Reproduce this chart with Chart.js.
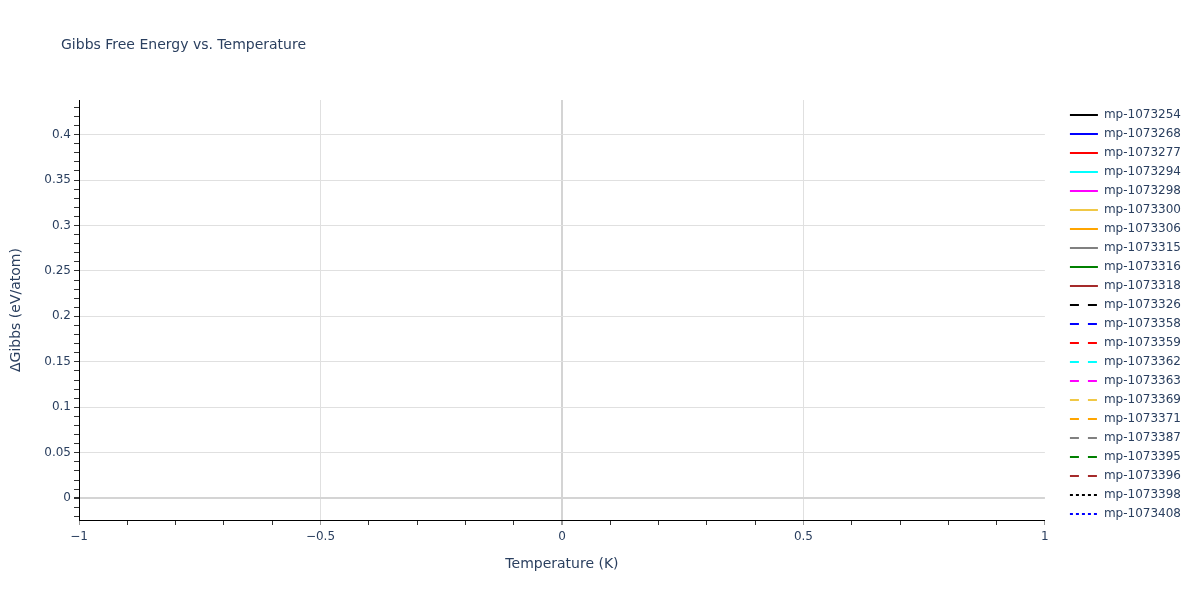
<!DOCTYPE html>
<html>
<head>
<meta charset="utf-8">
<title>Gibbs Free Energy vs. Temperature</title>
<script src="https://cdn.jsdelivr.net/npm/chart.js@4.4.1/dist/chart.umd.min.js"></script>
<style>
  html, body { margin: 0; padding: 0; background: #fff; }
  #wrap { width: 1200px; height: 600px; position: relative; }
</style>
</head>
<body>
<div id="wrap"><canvas id="gibbsChart"></canvas></div>
<script>
// datos del grafico (vacio: ningun material tiene puntos en el rango)
const chartTitle = "Gibbs Free Energy vs. Temperature";
const xTitle = "Temperature (K)";
const yTitle = "\u0394Gibbs (eV/atom)";

const xRange = [-1, 1];
const yRange = [-0.024, 0.438];
const xMajorTicks = [-1, -0.5, 0, 0.5, 1];

const temperatures = [];

const seriesNames = [
  "mp-1073254", "mp-1073268", "mp-1073277", "mp-1073294", "mp-1073298",
  "mp-1073300", "mp-1073306", "mp-1073315", "mp-1073316", "mp-1073318",
  "mp-1073326", "mp-1073358", "mp-1073359", "mp-1073362", "mp-1073363",
  "mp-1073369", "mp-1073371", "mp-1073387", "mp-1073395", "mp-1073396",
  "mp-1073398", "mp-1073408"
];

const seriesColors = [
  "#000000", "#0000ff", "#ff0000", "#00ffff", "#ff00ff",
  "#f0c846", "#ffa500", "#808080", "#008000", "#a52a2a",
  "#000000", "#0000ff", "#ff0000", "#00ffff", "#ff00ff",
  "#f0c846", "#ffa500", "#808080", "#008000", "#a52a2a",
  "#000000", "#0000ff"
];

// solid / dash / dot
const seriesStyles = [
  "solid", "solid", "solid", "solid", "solid",
  "solid", "solid", "solid", "solid", "solid",
  "dash", "dash", "dash", "dash", "dash",
  "dash", "dash", "dash", "dash", "dash",
  "dot", "dot"
];

const seriesValues = [
  [], [], [], [], [], [], [], [], [], [], [],
  [], [], [], [], [], [], [], [], [], [], []
];

const TEXT_COLOR = "#2a3f5f";
const FONT = "'DejaVu Sans', Verdana, sans-serif";

function dashFor(style) {
  if (style === "dash") return [9, 9];
  if (style === "dot") return [3, 3];
  return [];
}
function isMajor(v, step) {
  const r = Math.round(v / step);
  return Math.abs(v - r * step) < 1e-9;
}
function fmtNum(v) {
  const s = String(Math.round(v * 1000) / 1000);
  return s.startsWith("-") ? "\u2212" + s.slice(1) : s;
}

const datasets = seriesNames.map((name, i) => ({
  label: name,
  data: temperatures.map((t, j) => ({ x: t, y: seriesValues[i][j] })),
  borderColor: seriesColors[i],
  backgroundColor: seriesColors[i],
  borderWidth: 2,
  borderDash: dashFor(seriesStyles[i]),
  pointRadius: 0,
  fill: false
}));

/** la leyenda toma el trazo de la linea, no el del punto */
function legendLabels(chart) {
  const items = Chart.defaults.plugins.legend.labels.generateLabels(chart);
  return items.map(it => {
    const ds = chart.data.datasets[it.datasetIndex];
    it.strokeStyle = ds.borderColor;
    it.fillStyle = ds.borderColor;
    it.lineWidth = ds.borderWidth;
    it.lineDash = ds.borderDash;
    it.lineCap = "butt";
    it.pointStyle = "line";
    return it;
  });
}

/** titulo alineado a la izquierda como en el original */
const titlePlugin = {
  id: "leftTitle",
  afterDraw(chart) {
    const ctx = chart.ctx;
    ctx.save();
    ctx.font = "14px " + FONT;
    ctx.fillStyle = TEXT_COLOR;
    ctx.textBaseline = "middle";
    ctx.textAlign = "left";
    ctx.fillText(chartTitle, 61, 45);
    ctx.restore();
  }
};

new Chart(document.getElementById("gibbsChart"), {
  type: "line",
  data: { datasets },
  plugins: [titlePlugin],
  options: {
    responsive: true,
    maintainAspectRatio: false,
    animation: false,
    layout: { padding: { top: 100, left: 0, right: 9, bottom: 0 } },
    plugins: {
      title: { display: false },
      tooltip: { enabled: false },
      legend: {
        position: "right",
        align: "start",
        title: { display: true, text: "", padding: 0, font: { size: 1, lineHeight: "2px" } },
        labels: {
          usePointStyle: true,
          pointStyle: "line",
          pointStyleWidth: 28,
          boxHeight: 12,
          padding: 7,
          color: TEXT_COLOR,
          font: { family: FONT, size: 12 },
          generateLabels: legendLabels
        }
      }
    },
    scales: {
      x: {
        type: "linear",
        min: xRange[0],
        max: xRange[1],
        afterFit(scale) { scale.height = 80; },
        ticks: {
          stepSize: 0.1,
          autoSkip: false,
          maxRotation: 0,
          padding: 5,
          color: TEXT_COLOR,
          font: { family: FONT, size: 12 },
          callback: (v) => xMajorTicks.some(m => Math.abs(m - v) < 1e-9) ? fmtNum(v) : ""
        },
        grid: {
          drawTicks: true,
          tickLength: 5,
          color: (c) => {
            const v = c.tick ? c.tick.value : null;
            if (v === null) return "rgba(0,0,0,0)";
            if (Math.abs(v) < 1e-9) return "#d4d4d4";
            if (Math.abs(v) > 0.999) return "rgba(0,0,0,0)";
            return isMajor(v, 0.5) ? "#e0e0e0" : "rgba(0,0,0,0)";
          },
          lineWidth: (c) => (c.tick && Math.abs(c.tick.value) < 1e-9) ? 2 : 1,
          tickColor: (c) => (c.tick && isMajor(c.tick.value, 0.5)) ? "#9a9a9a" : "#333333",
          tickWidth: (c) => (c.tick && Math.abs(c.tick.value) < 1e-9) ? 2 : 1
        },
        border: { display: true, color: "#000000", width: 1 },
        title: {
          display: true,
          text: xTitle,
          color: TEXT_COLOR,
          font: { family: FONT, size: 14 },
          padding: { top: 0, bottom: 27 }
        }
      },
      y: {
        type: "linear",
        min: yRange[0],
        max: yRange[1],
        afterFit(scale) { scale.width = 79; },
        ticks: {
          stepSize: 0.01,
          includeBounds: false,
          autoSkip: false,
          padding: 3,
          color: TEXT_COLOR,
          font: { family: FONT, size: 12 },
          callback: (v) => isMajor(v, 0.05) ? fmtNum(v) : ""
        },
        grid: {
          drawTicks: true,
          tickLength: 5,
          color: (c) => {
            const v = c.tick ? c.tick.value : null;
            if (v === null) return "rgba(0,0,0,0)";
            if (Math.abs(v) < 1e-9) return "#d4d4d4";
            return isMajor(v, 0.05) ? "#e0e0e0" : "rgba(0,0,0,0)";
          },
          lineWidth: (c) => (c.tick && Math.abs(c.tick.value) < 1e-9) ? 2 : 1,
          tickColor: "#333333"
        },
        border: { display: true, color: "#000000", width: 1 },
        title: {
          display: true,
          text: yTitle,
          color: TEXT_COLOR,
          font: { family: FONT, size: 14 },
          padding: { top: 8, bottom: 0 }
        }
      },
      // eje fantasma: solo deja el hueco entre el area y la leyenda
      gap: {
        type: "linear",
        position: "right",
        display: true,
        afterFit(scale) { scale.width = 18; },
        ticks: { display: false },
        grid: { display: false, drawTicks: false },
        border: { display: false }
      }
    }
  }
});
</script>
</body>
</html>
